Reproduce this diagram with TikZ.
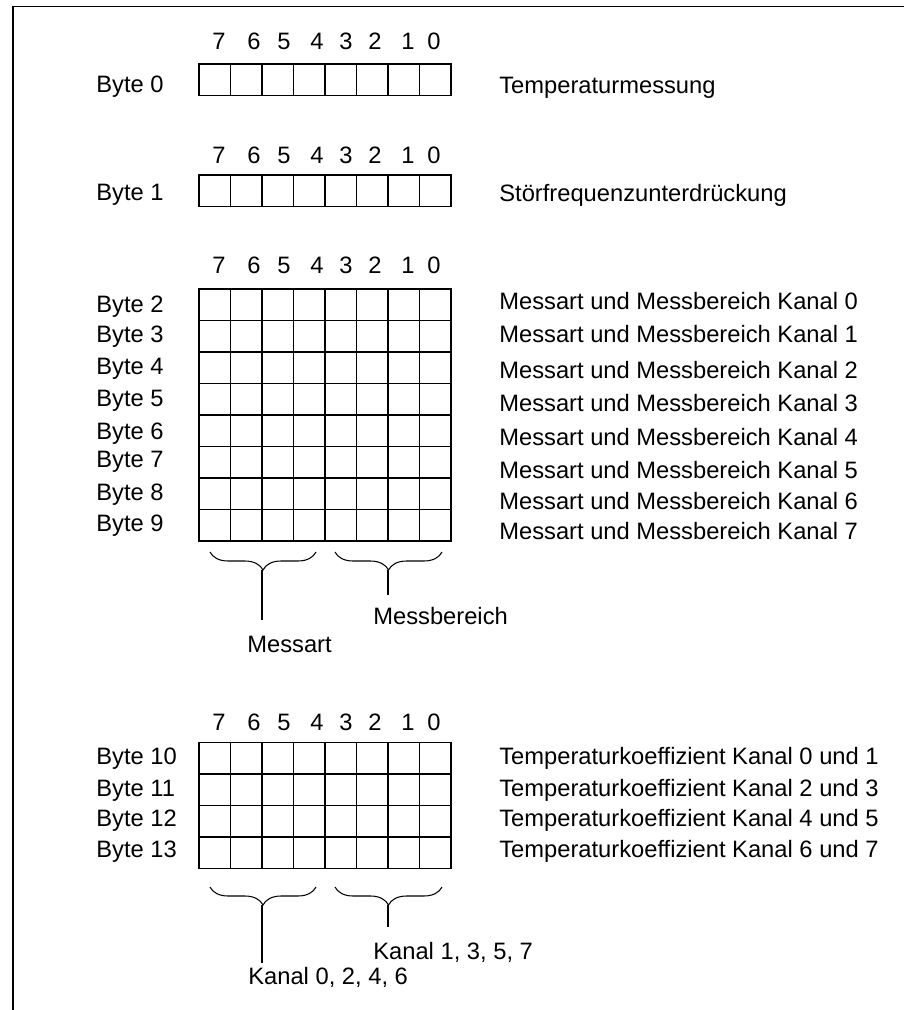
\documentclass[tikz,border=0pt]{standalone}
\usepackage{fontspec}
\setmainfont{Liberation Sans}
\usetikzlibrary{decorations.pathreplacing}
\begin{document}
\begin{tikzpicture}[x=0.02cm,y=-0.02cm,font=\fontsize{13.5}{16}\selectfont]
  \tikzset{lb/.style={anchor=base west,inner sep=0pt},
    dg/.style={anchor=base,inner sep=0pt},
    cl/.style={line width=1.1pt,line cap=rect},
    brc/.style={line width=0.6pt,decorate,decoration={brace,mirror,amplitude=0.36cm}}}
  \useasboundingbox (0,0) rectangle (904,1010);
  \draw[line width=0.9pt] (13,1010) -- (13,6.5) -- (904,6.5);
  % bit numbers
  \foreach \g/\yb in {a/50,b/163.3,c/273.3,d/730.7}
    \foreach \b/\x in {7/219,6/254,5/284,4/317,3/346,2/375,1/408,0/434}
      \node[dg] (\g\b) at (\x,\yb) {\b};
  % registers
  \foreach \t/\n in {64/1,175/1,289/8,742.5/4} {
    \foreach \i in {0,...,8}
      \draw[cl] ({199+31.5*\i},\t) -- ({199+31.5*\i},{\t+31.5*\n});
    \foreach \j in {0,...,\n}
      \draw[cl] (199,{\t+31.5*\j}) -- (451,{\t+31.5*\j});
  }
  \node[lb] (by0) at (96,92.5) {Byte 0};
  \node[lb] (by1) at (96,200.5) {Byte 1};
  \foreach \n/\yb in {2/312.5,3/342.5,4/374.5,5/406.5,6/439.5,7/467.5,8/500.5,9/531.5,10/764.5,11/796.5,12/826.5,13/857.5}
    \node[lb] (by\n) at (96,\yb) {Byte \n};
  \node[lb] (tm) at (499,94) {Temperaturmessung};
  \node[lb] (sf) at (499,201.7) {Störfrequenzunterdrückung};
  \foreach \k/\yb in {0/309,1/342,2/378,3/411,4/445,5/478,6/509,7/539}
    \node[lb] (mk\k) at (499,\yb) {Messart und Messbereich Kanal \k};
  \foreach \k/\l/\yb in {0/1/764.5,2/3/796.5,4/5/826.5,6/7/857.5}
    \node[lb] (tk\k) at (499,\yb) {Temperaturkoeffizient Kanal \k{} und \l};
  % braces
  \coordinate (ma1) at (210,552); \coordinate (ma2) at (316,552);
  \coordinate (mb1) at (335,552); \coordinate (mb2) at (442,552);
  \coordinate (ka1) at (210,887); \coordinate (ka2) at (316,887);
  \coordinate (kb1) at (335,887); \coordinate (kb2) at (442,887);
  \draw[brc] (ma1) -- (ma2); \draw[brc] (mb1) -- (mb2);
  \draw[brc] (ka1) -- (ka2); \draw[brc] (kb1) -- (kb2);
  \coordinate (maT) at (262,570); \coordinate (maE) at (262,620);
  \coordinate (mbT) at (388,570); \coordinate (mbE) at (388,595);
  \coordinate (kaT) at (262,905); \coordinate (kaE) at (262,963);
  \coordinate (kbT) at (388,905); \coordinate (kbE) at (388,927);
  \draw[line width=0.6pt] (maT) -- (maE); \draw[line width=0.6pt] (mbT) -- (mbE);
  \draw[line width=0.6pt] (kaT) -- (kaE); \draw[line width=0.6pt] (kbT) -- (kbE);
  \node[lb] (ma) at (247,652.7) {Messart};
  \node[lb] (mb) at (373,624) {Messbereich};
  \node[lb] (kb) at (373,959.3) {Kanal 1, 3, 5, 7};
  \node[lb] (ka) at (248,984) {Kanal 0, 2, 4, 6};
\end{tikzpicture}
\end{document}
